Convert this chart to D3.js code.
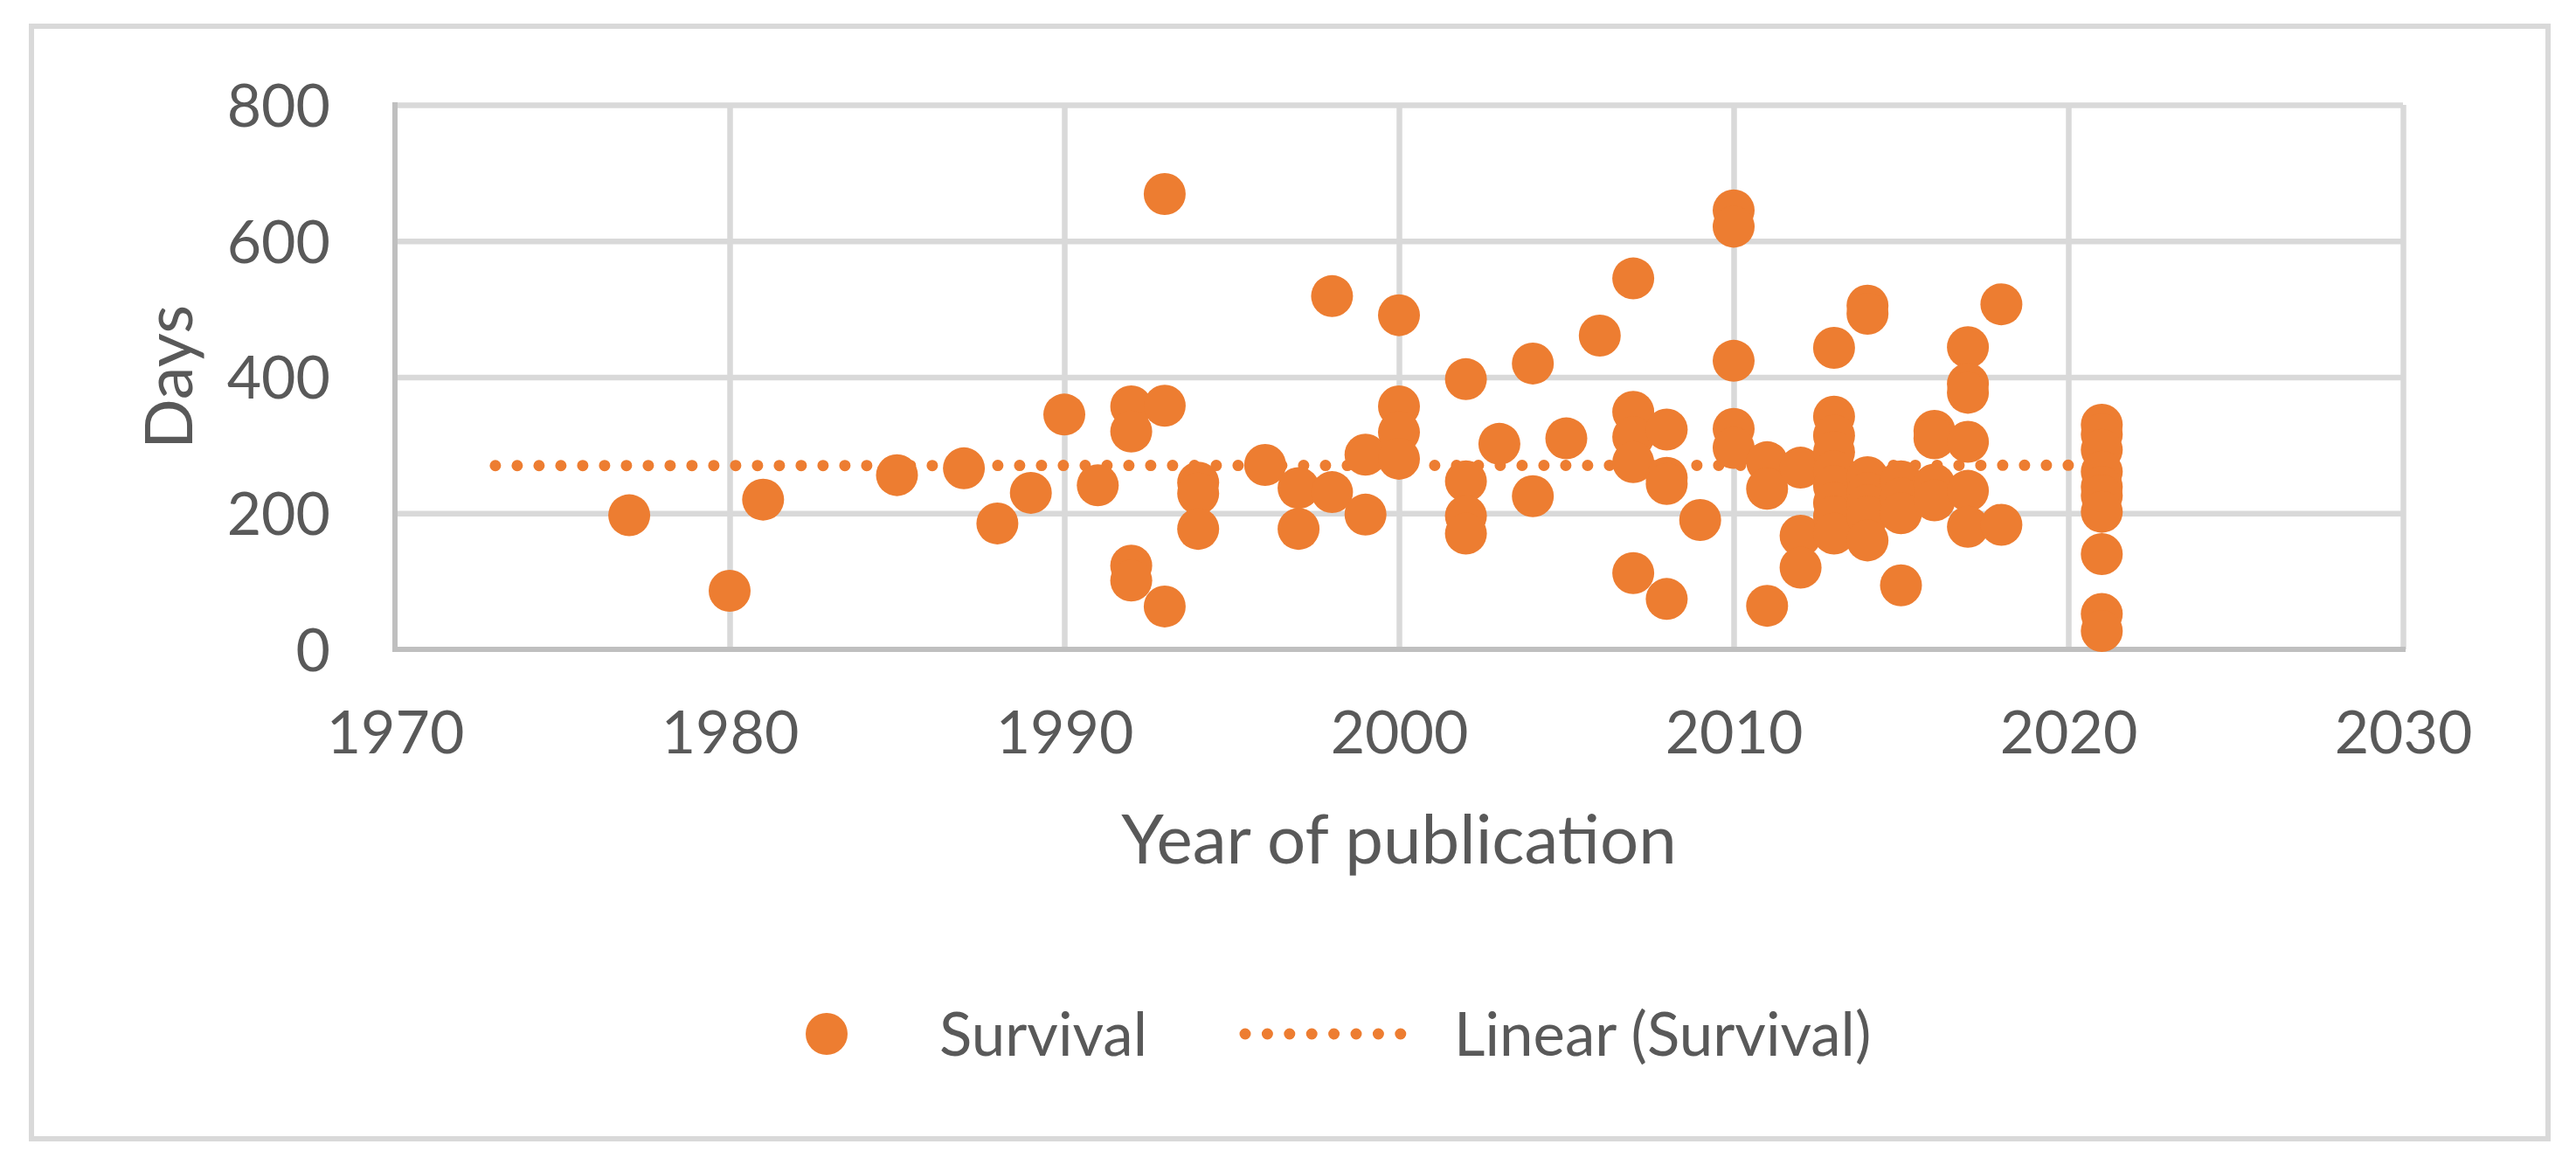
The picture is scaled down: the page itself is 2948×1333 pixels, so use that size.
<!DOCTYPE html>
<html>
<head>
<meta charset="utf-8">
<script src="https://cdn.jsdelivr.net/npm/d3@7"></script>
<style>
  html, body { margin: 0; padding: 0; background: #ffffff; }
  svg { display: block; }
  text { font-family: Lato, "Open Sans", sans-serif; fill: #595959; }
</style>
</head>
<body>
<svg id="chart" width="2948" height="1333"></svg>
<script>
// ---- Data ----
const years = [
  1977, 1980, 1981, 1985, 1987, 1988, 1989, 1990, 1991,
  1992, 1992, 1992, 1992,
  1993, 1993, 1993,
  1994, 1994, 1994,
  1996, 1997, 1997, 1998, 1998, 1999, 1999,
  2000, 2000, 2000, 2000,
  2002, 2002, 2002, 2002,
  2003, 2004, 2004, 2005, 2006,
  2007, 2007, 2007, 2007, 2007,
  2008, 2008, 2008, 2008,
  2009,
  2010, 2010, 2010, 2010, 2010,
  2011, 2011, 2011,
  2012, 2012, 2012,
  2013, 2013, 2013, 2013, 2013, 2013, 2013, 2013, 2013,
  2014, 2014, 2014, 2014, 2014, 2014, 2014,
  2015, 2015, 2015, 2015,
  2016, 2016, 2016, 2016,
  2017, 2017, 2017, 2017, 2017, 2017,
  2018, 2018,
  2021, 2021, 2021, 2021, 2021, 2021, 2021, 2021, 2021, 2021
];
const survivalDays = [
  197, 86, 220, 256, 266, 185, 230, 345, 241,
  357, 320, 123, 101,
  669, 358, 63,
  245, 229, 177,
  271, 237, 177, 519, 231, 286, 198,
  491, 357, 319, 280,
  397, 247, 196, 170,
  302, 420, 225, 310, 461,
  545, 349, 312, 275, 112,
  323, 252, 243, 74,
  190,
  645, 621, 424, 324, 296,
  275, 236, 64,
  267, 167, 120,
  443, 342, 314, 290, 262, 240, 215, 195, 170,
  505, 493, 253, 230, 212, 195, 160,
  247, 222, 200, 94,
  321, 310, 242, 219,
  444, 390, 377, 305, 233, 180,
  507, 183,
  330, 316, 293, 261, 239, 226, 202, 140, 52, 27
];
// Linear trendline (Survival), end points as drawn
const trendYears = [1973, 2021];
const trendDays = [270, 270.5];

const xTicks = [1970, 1980, 1990, 2000, 2010, 2020, 2030];
const yTicks = [0, 200, 400, 600, 800];
const xTitle = "Year of publication";
const yTitle = "Days";
const legendLabels = ["Survival", "Linear (Survival)"];

// ---- Layout ----
const ORANGE = "#ed7d31";
const svg = d3.select("#chart");
const plot = { left: 452, right: 2750, top: 120, bottom: 743 };

const x = d3.scaleLinear().domain([1970, 2030]).range([plot.left, plot.right]);
const y = d3.scaleLinear().domain([0, 800]).range([plot.bottom, plot.top]);

// background + chart border
svg.append("rect").attr("x", 0).attr("y", 0).attr("width", 2948).attr("height", 1333).attr("fill", "#ffffff");
svg.append("rect")
  .attr("x", 36).attr("y", 30).attr("width", 2880).attr("height", 1273)
  .attr("fill", "#ffffff").attr("stroke", "#d9d9d9").attr("stroke-width", 6);

// gridlines
const gridY = svg.append("g").attr("transform", `translate(${plot.left},0)`)
  .call(d3.axisLeft(y).tickValues(yTicks.filter(v => v > 0)).tickSize(-(plot.right - plot.left)).tickFormat(""));
gridY.select(".domain").remove();
gridY.selectAll("line").attr("stroke", "#d9d9d9").attr("stroke-width", 6.5);

const gridX = svg.append("g").attr("transform", `translate(0,${plot.bottom})`)
  .call(d3.axisBottom(x).tickValues(xTicks.filter(v => v > 1970)).tickSize(-(plot.bottom - plot.top)).tickFormat(""));
gridX.select(".domain").remove();
gridX.selectAll("line").attr("stroke", "#d9d9d9").attr("stroke-width", 6.5);

// axis lines
svg.append("line").attr("x1", x(1970)).attr("x2", x(1970)).attr("y1", y(800) - 3).attr("y2", y(0) + 3)
  .attr("stroke", "#bfbfbf").attr("stroke-width", 6);
svg.append("line").attr("x1", x(1970) - 3).attr("x2", x(2030) + 3).attr("y1", y(0)).attr("y2", y(0))
  .attr("stroke", "#bfbfbf").attr("stroke-width", 6);

// tick labels
const yAxis = svg.append("g").attr("transform", `translate(${plot.left},0)`)
  .call(d3.axisLeft(y).tickValues(yTicks).tickSize(0).tickPadding(74));
yAxis.select(".domain").remove();
yAxis.selectAll("text").attr("font-size", 68).attr("fill", "#595959")
  .attr("font-family", "Lato, 'Open Sans', sans-serif").attr("dy", "0.36em");

const xAxis = svg.append("g").attr("transform", `translate(0,${plot.bottom})`)
  .call(d3.axisBottom(x).tickValues(xTicks).tickSize(0).tickFormat(d3.format("d")));
xAxis.select(".domain").remove();
xAxis.selectAll("text").attr("font-size", 68).attr("fill", "#595959")
  .attr("font-family", "Lato, 'Open Sans', sans-serif").attr("y", 95).attr("dy", "0.36em");

// axis titles
svg.append("text").attr("x", (plot.left + plot.right) / 2).attr("y", 988)
  .attr("text-anchor", "middle").attr("font-size", 78).text(xTitle);
svg.append("text").attr("transform", `translate(220,${(plot.top + plot.bottom) / 2}) rotate(-90)`)
  .attr("text-anchor", "middle").attr("font-size", 76).text(yTitle);

// trendline (behind markers)
const trendData = trendYears.map((yr, i) => ({ x: yr, y: trendDays[i] }));
svg.append("path").datum(trendData)
  .attr("d", d3.line().x(d => x(d.x)).y(d => y(d.y)))
  .attr("fill", "none").attr("stroke", ORANGE).attr("stroke-width", 13)
  .attr("stroke-linecap", "round").attr("stroke-dasharray", "0 25");

// markers
const pts = years.map((yr, i) => ({ year: yr, days: survivalDays[i] }));
svg.append("g").selectAll("circle").data(pts).join("circle")
  .attr("cx", d => x(d.year)).attr("cy", d => y(d.days)).attr("r", 24)
  .attr("fill", ORANGE);

// legend
const ly = 1183;
svg.append("circle").attr("cx", 946).attr("cy", ly).attr("r", 24).attr("fill", ORANGE);
svg.append("text").attr("x", 1075).attr("y", ly).attr("dy", "0.36em").attr("font-size", 69).text(legendLabels[0]);
svg.append("line").attr("x1", 1425).attr("x2", 1628).attr("y1", ly).attr("y2", ly)
  .attr("stroke", ORANGE).attr("stroke-width", 13).attr("stroke-linecap", "round").attr("stroke-dasharray", "0 25.4");
svg.append("text").attr("x", 1664).attr("y", ly).attr("dy", "0.36em").attr("font-size", 69).text(legendLabels[1]);
</script>
</body>
</html>
